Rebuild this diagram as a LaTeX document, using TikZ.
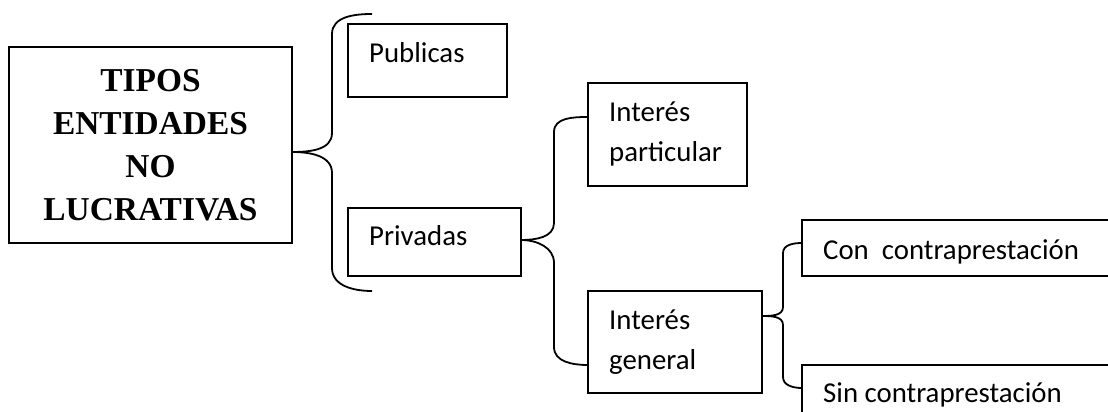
\documentclass[tikz,border=0pt]{standalone}
\usepackage{fontspec}
\setmainfont{Liberation Serif}
\newfontfamily\calibfont{Carlito}
\tikzset{
	box/.style={draw, line width=1.8pt, inner sep=0pt, outer sep=0pt},
	lbl/.style={anchor=base west, inner sep=0pt, align=left, font=\calibfont\fontsize{28.8}{40}\selectfont},
	brace/.style={line width=1.8pt}
}

\begin{document}
\begin{tikzpicture}[x=1pt,y=1pt]
			\useasboundingbox (0,0) rectangle (1108,412);
			\clip (0,0) rectangle (1108,412);
			% boxes
			\node[box, minimum width=283, minimum height=196, align=center, font=\bfseries\fontsize{33.4}{43}\selectfont] (main) at (150.5,267) {TIPOS\\ENTIDADES\\NO\\LUCRATIVAS};
			\node[box, minimum width=159, minimum height=73] (pub) at (427.5,351.5) {};
			\node[box, minimum width=173, minimum height=68] (priv) at (434.5,170) {};
			\node[box, minimum width=159, minimum height=103] (ipart) at (667.5,277.5) {};
			\node[box, minimum width=174, minimum height=102] (igen) at (675,70) {};
			\node[box, minimum width=328, minimum height=56] (con) at (966,164) {};
			\node[box, minimum width=328, minimum height=75] (sin) at (966,9.5) {};
			% texts
			\node[lbl] (tpub) at ([shift={(21,-39)}]pub.north west) {Publicas};
			\node[lbl] (tpriv) at ([shift={(21,-38)}]priv.north west) {Privadas};
			\node[lbl] (tipart) at ([shift={(21,-79)}]ipart.north west) {Interés\\particular};
			\node[lbl] (tigen) at ([shift={(21,-79)}]igen.north west) {Interés\\general};
			\node[lbl] (tcon) at ([shift={(21,-40)}]con.north west) {Con\ \ contraprestación};
			\node[lbl] (tsin) at ([shift={(21,-38)}]sin.north west) {Sin contraprestación};
			% braces
			\coordinate (b1top) at (372,398);
			\coordinate (b1bot) at (372,121);
			\draw[brace] ([yshift=-7]main.east) to[out=0,in=-90] (332,279) -- (332,378) to[out=90,in=180] (b1top);
			\draw[brace] ([yshift=-7]main.east) to[out=0,in=90] (332,239) -- (332,144) to[out=-90,in=180] (b1bot);
			\draw[brace] ([yshift=2]priv.east) to[out=0,in=-90] (554,189) -- (554,280) to[out=90,in=180] ([yshift=17.5]ipart.west);
			\draw[brace] ([yshift=2]priv.east) to[out=0,in=90] (554,149) -- (554,65) to[out=-90,in=180] ([yshift=-23]igen.west);
			\draw[brace] ([yshift=26]igen.east) to[out=0,in=-90] (783,105) -- (783,159) to[out=90,in=180] ([yshift=5]con.west);
			\draw[brace] ([yshift=26]igen.east) to[out=0,in=90] (783,87) -- (783,35) to[out=-90,in=180] ([yshift=14.5]sin.west);
		\end{tikzpicture}
\end{document}
